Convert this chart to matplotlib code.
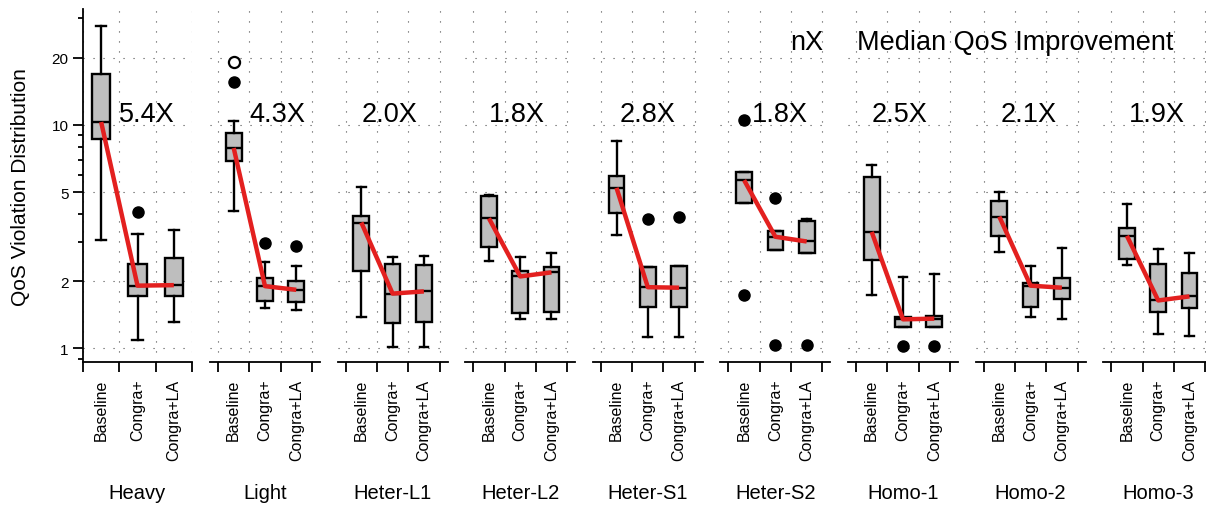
import numpy as np
import matplotlib
matplotlib.use("Agg")
import matplotlib.pyplot as plt
import matplotlib.ticker as mticker
import matplotlib.transforms as mtransforms

plt.rcParams['font.family'] = ['Liberation Sans', 'DejaVu Sans']

groups = ['Heavy', 'Light', 'Heter-L1', 'Heter-L2', 'Heter-S1', 'Heter-S2', 'Homo-1', 'Homo-2', 'Homo-3']
methods = ['Baseline', 'Congra+', 'Congra+LA']
improvement = ['5.4X', '4.3X', '2.0X', '1.8X', '2.8X', '1.8X', '2.5X', '2.1X', '1.9X']

# per group: [Baseline, Congra+, Congra+LA]
whislo = [[3.06, 1.09, 1.31], [4.10, 1.52, 1.49], [1.38, 1.02, 1.02],
          [2.45, 1.35, 1.36], [3.22, 1.13, 1.13], [4.49, 2.76, 2.67],
          [1.74, 1.25, 1.25], [2.69, 1.38, 1.36], [2.36, 1.16, 1.14]]
q1 = [[8.63, 1.71, 1.71], [6.87, 1.63, 1.61], [2.21, 1.30, 1.31],
      [2.83, 1.445, 1.455], [4.05, 1.54, 1.54], [4.49, 2.76, 2.67],
      [2.49, 1.25, 1.25], [3.17, 1.53, 1.67], [2.51, 1.455, 1.52]]
med = [[10.3, 1.91, 1.92], [7.88, 1.90, 1.83], [3.66, 1.76, 1.80],
       [3.82, 2.10, 2.19], [5.23, 1.88, 1.87], [5.66, 3.16, 3.01],
       [3.32, 1.35, 1.36], [3.89, 1.91, 1.87], [3.19, 1.64, 1.71]]
q3 = [[16.9, 2.39, 2.53], [9.19, 2.07, 2.0], [3.91, 2.39, 2.37],
      [4.80, 2.23, 2.31], [5.93, 2.31, 2.33], [6.16, 3.35, 3.71],
      [5.85, 1.38, 1.40], [4.56, 1.96, 2.07], [3.47, 2.39, 2.18]]
whishi = [[27.6, 3.24, 3.39], [10.45, 2.44, 2.35], [5.29, 2.56, 2.58],
          [4.85, 2.56, 2.66], [8.49, 2.31, 2.33], [6.16, 3.35, 3.78],
          [6.64, 2.08, 2.16], [5.0, 2.35, 2.81], [4.44, 2.78, 2.67]]
fliers = [[[], [4.09], []], [[15.6], [2.97], [2.87]], [[], [], []],
          [[], [], []], [[], [3.81], [3.89]], [[10.5, 1.74], [4.69, 1.04], [1.04]],
          [[], [1.03], [1.03]], [[], [], []], [[], [], []]]
# hollow outlier (Light, Baseline)
open_flier_group = 'Light'
open_flier_value = [19.05]

W, H = 1206, 506
fig = plt.figure(figsize=(W / 100, H / 100), dpi=100)

top_px, bot_px = 10, 363
ann_x = [1.5, 1.5, 1.0, 1.0, 1.1, 1.25, 1.0, 1.05, 1.05]

for i, g in enumerate(groups):
    if i == 0:
        left_px, width_px = 83, 109
        xlim = (0.59, 3.38)
    else:
        left_px, width_px = 210 + 127.6 * (i - 1), 110
        xlim = (0.5 - 8 / 31.0, 3.5 + 8 / 31.0)
    ax = fig.add_axes([left_px / W, 1 - bot_px / H, width_px / W, (bot_px - top_px) / H])

    stats = []
    for j in range(3):
        stats.append(dict(whislo=whislo[i][j], q1=q1[i][j], med=med[i][j],
                          q3=q3[i][j], whishi=whishi[i][j], fliers=fliers[i][j]))
    ax.bxp(stats, positions=[1, 2, 3], widths=0.5, patch_artist=True,
           capwidths=0.28, manage_ticks=False,
           boxprops=dict(facecolor='#bebebe', edgecolor='black', linewidth=1.7),
           medianprops=dict(color='black', linewidth=1.7),
           whiskerprops=dict(color='black', linewidth=1.7),
           capprops=dict(color='black', linewidth=1.7),
           flierprops=dict(marker='o', markerfacecolor='black', markeredgecolor='black',
                           markersize=8))
    if g == open_flier_group:
        ax.plot([1] * len(open_flier_value), open_flier_value, 'o', mfc='white',
                mec='black', mew=1.6, ms=8, zorder=4)

    ax.plot([1, 2, 3], med[i], color='#e3201f', lw=3.2, solid_capstyle='butt', zorder=5)

    ax.set_yscale('log')
    ax.set_ylim(0.87, 33)
    ax.set_xlim(*xlim)
    ax.yaxis.set_major_locator(mticker.FixedLocator([1, 2, 5, 10, 20]))
    ax.yaxis.set_minor_locator(mticker.LogLocator(subs=np.arange(1, 10)))
    ax.yaxis.set_major_formatter(mticker.FixedFormatter(['1', '2', '5', '10', '20']))
    ax.yaxis.set_minor_formatter(mticker.NullFormatter())

    ax.set_xticks([0.5, 1.5, 2.5, 3.5])
    ax.set_xticks([1, 2, 3], minor=True)
    ax.set_xticklabels(methods, minor=True, rotation=90, fontsize=11.5)
    ax.tick_params(axis='x', which='major', length=7.5, width=1.3, labelbottom=False)
    ax.tick_params(axis='x', which='minor', length=0, pad=12)

    ax.grid(True, which='major', linestyle=(0, (1, 8)), color='0.3', linewidth=0.8)
    ax.set_axisbelow(True)

    for s in ['top', 'right']:
        ax.spines[s].set_visible(False)
    ax.spines['bottom'].set_linewidth(1.3)
    if i == 0:
        ax.spines['left'].set_linewidth(1.3)
        ax.tick_params(axis='y', which='major', length=7.5, width=1.3, labelsize=11, pad=3)
        ax.tick_params(axis='y', which='minor', length=3.8, width=1.3)
    else:
        ax.spines['left'].set_visible(False)
        ax.tick_params(axis='y', which='both', left=False, labelleft=False)

    ax.text(ann_x[i], 10.4, improvement[i], fontsize=19.5, ha='left', va='baseline')

    trans = mtransforms.blended_transform_factory(ax.transData, fig.transFigure)
    ax.text(2, 1 - 499 / H, g, transform=trans, fontsize=14.5, ha='center', va='baseline')

fig.text(21 / W, 1 - 187 / H, 'QoS Violation Distribution', rotation=90,
         fontsize=15, ha='center', va='center')
fig.text(790 / W, 1 - 50 / H, 'nX', fontsize=19.5, ha='left', va='baseline')
fig.text(857 / W, 1 - 50 / H, 'Median QoS Improvement', fontsize=19.5, ha='left', va='baseline')

fig.savefig('out.png', dpi=100)
